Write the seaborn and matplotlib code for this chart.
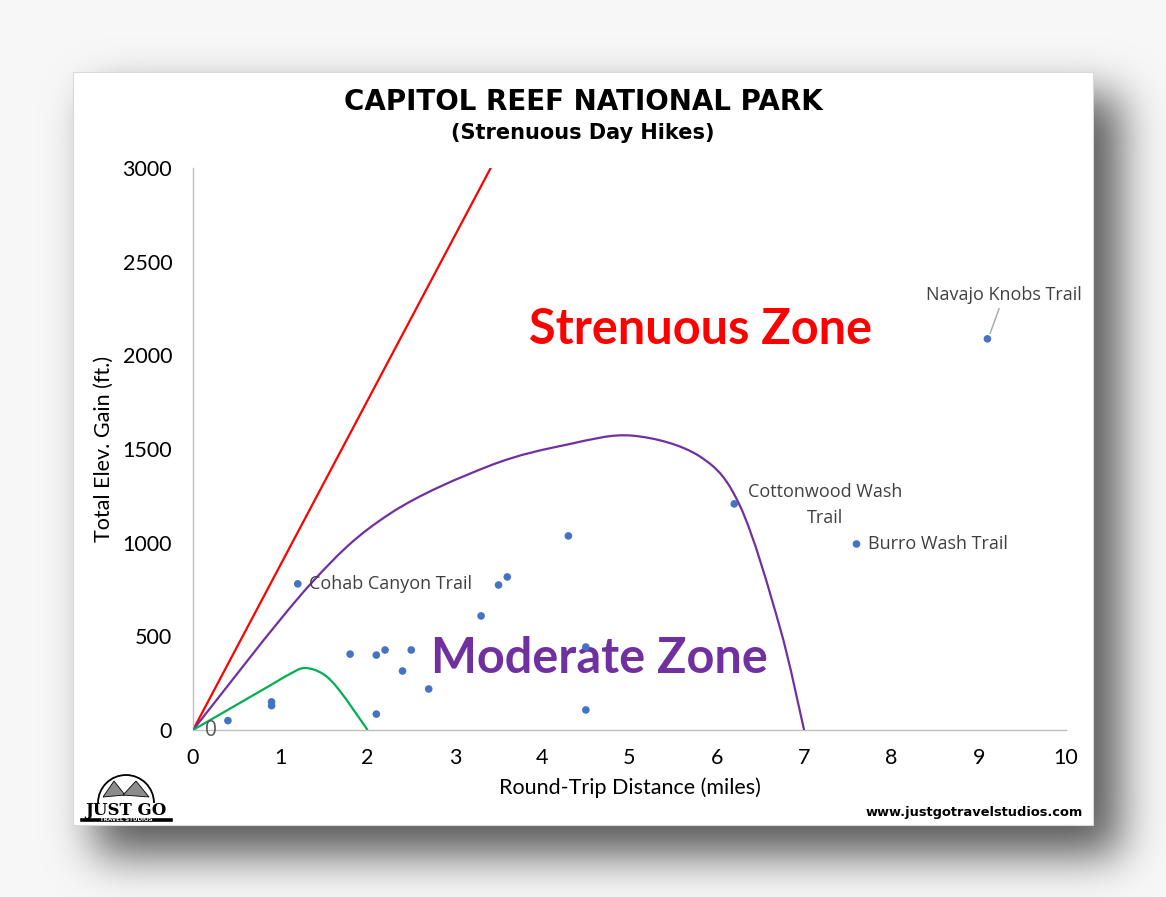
import numpy as np
import pandas as pd
import matplotlib
matplotlib.use("Agg")
import matplotlib.pyplot as plt
import seaborn as sns
from matplotlib.patches import Rectangle, Polygon, Arc, PathPatch
from matplotlib.path import Path

# ---------------- data ----------------
hike_dist = [0.4, 0.9, 0.9, 1.2, 1.8, 2.1, 2.2, 2.1, 2.4, 2.5, 2.7, 3.3, 3.5, 3.6, 4.3, 4.5, 4.5, 6.2, 7.6, 9.1]
hike_gain = [50, 150, 130, 780, 405, 400, 427, 85, 315, 427, 219, 609, 774, 817, 1036, 443, 107, 1207, 993, 2088]

strenuous_x = [0, 3.41]
strenuous_y = [0, 3000]

moderate_x = [0, 1.34, 2.25, 3.40, 4.30, 5.04, 5.81, 6.27, 6.72, 7.0]
moderate_y = [0, 776, 1153, 1411, 1525, 1571, 1459, 1192, 552, 0]

easy_x = [0, 0.88, 1.11, 1.28, 1.49, 1.68, 2.0]
easy_y = [0, 237, 299, 331, 299, 210, 0]

x_ticks = [0, 1, 2, 3, 4, 5, 6, 7, 8, 9, 10]
y_ticks = [0, 500, 1000, 1500, 2000, 2500, 3000]

labels = ["Cohab Canyon Trail", "Cottonwood Wash\nTrail", "Burro Wash Trail", "Navajo Knobs Trail"]

# ---------------- helpers ----------------
def smooth_path(xs, ys):
    """Excel-style smoothed line: cubic Bezier segments through the data points."""
    P = np.column_stack([xs, ys]).astype(float)
    n = len(P)
    verts = [P[0]]
    codes = [Path.MOVETO]
    for i in range(n - 1):
        p0 = P[i - 1] if i > 0 else P[i]
        p1, p2 = P[i], P[i + 1]
        p3 = P[i + 2] if i + 2 < n else P[i + 1]
        c1 = p1 + (p2 - p0) / 6.0
        c2 = p2 - (p3 - p1) / 6.0
        verts += [c1, c2, p2]
        codes += [Path.CURVE4] * 3
    return Path(verts, codes)

def blur1d(a, sigma, axis):
    r = int(3 * sigma)
    k = np.exp(-0.5 * (np.arange(-r, r + 1) / sigma) ** 2)
    k /= k.sum()
    return np.apply_along_axis(lambda v: np.convolve(np.pad(v, r, mode='edge'), k, mode='valid'), axis, a)

# ---------------- figure & background ----------------
sns.set_theme(style="white")
plt.rcParams['font.family'] = ['Lato', 'DejaVu Sans']

W, H = 1166, 897
fig = plt.figure(figsize=(W / 100, H / 100), dpi=100)

mask = np.zeros((H, W))
mask[95:855, 95:1120] = 1.0
mask = blur1d(blur1d(mask, 22, 0), 22, 1)
bg = 0.97 - 0.62 * mask
img = np.dstack([bg, bg, bg])
fig.figimage(img, 0, 0, origin='upper', zorder=0)

panel = Rectangle((73 / W, 1 - 825 / H), (1093 - 73) / W, (825 - 72) / H,
                  transform=fig.transFigure, facecolor='white', edgecolor='#d9d9d9',
                  linewidth=0.8, zorder=1)
fig.patches.append(panel)

# ---------------- main axes ----------------
ax = fig.add_axes([193 / W, 1 - 730 / H, (1066 - 193) / W, (730 - 168) / H])
ax.set_facecolor('none')
ax.set_zorder(2)

sns.lineplot(x=strenuous_x, y=strenuous_y, ax=ax, color='#FF0000', linewidth=1.6, sort=False)
ax.add_patch(PathPatch(smooth_path(moderate_x, moderate_y), fill=False, edgecolor='#7030A0', linewidth=1.6, zorder=3))
ax.add_patch(PathPatch(smooth_path(easy_x, easy_y), fill=False, edgecolor='#00B050', linewidth=1.6, zorder=3))
sns.scatterplot(x=hike_dist, y=hike_gain, ax=ax, color='#4472C4', s=30, edgecolor='none', zorder=5)

ax.set_xlim(0, 10)
ax.set_ylim(0, 3000)
ax.set_xticks(x_ticks)
ax.set_yticks(y_ticks)
ax.set_xticklabels([str(v) for v in x_ticks])
ax.set_yticklabels([str(v) for v in y_ticks])
ax.tick_params(axis='x', length=0, pad=13, labelsize=15.5, labelcolor='#000000')
ax.tick_params(axis='y', length=0, pad=15, labelsize=15.5, labelcolor='#000000')
for s in ['top', 'right']:
    ax.spines[s].set_visible(False)
for s in ['left', 'bottom']:
    ax.spines[s].set_color('#bfbfbf')
    ax.spines[s].set_linewidth(1.0)
ax.grid(False)
ax.set_xlabel('Round-Trip Distance (miles)', fontsize=15.5, color='#000000', labelpad=7)
ax.set_ylabel('Total Elev. Gain (ft.)', fontsize=15.5, color='#000000', labelpad=6)

# data labels
lab_font = dict(family=['Open Sans', 'DejaVu Sans'], fontsize=13, color='#404040')
ax.text(hike_dist[3] + 0.13, hike_gain[3], labels[0], ha='left', va='center', **lab_font)
ax.text(7.24, 1200, labels[1], ha='center', va='center', multialignment='center', linespacing=1.6, **lab_font)
ax.text(hike_dist[18] + 0.13, hike_gain[18], labels[2], ha='left', va='center', **lab_font)
ax.annotate(labels[3], xy=(hike_dist[19] + 0.02, hike_gain[19] + 15), xytext=(9.29, 2322),
            ha='center', va='center', **lab_font,
            arrowprops=dict(arrowstyle='-', color='#a6a6a6', lw=1.0, shrinkA=1, shrinkB=2))
ax.text(0.2, -5, '0', ha='center', va='center', family=['Open Sans', 'DejaVu Sans'],
        fontsize=15, color='#595959')

zone_font = dict(family=['Lato', 'DejaVu Sans'], fontweight='bold', fontsize=35)
ax.text(5.81, 2136, 'Strenuous Zone', color='#FF0000', ha='center', va='center', **zone_font)
ax.text(4.66, 384, 'Moderate Zone', color='#7030A0', ha='center', va='center', **zone_font)

# ---------------- titles ----------------
fig.text(0.5, 1 - 102 / H, 'CAPITOL REEF NATIONAL PARK', ha='center', va='center',
         fontsize=20, fontweight='bold', family=['DejaVu Sans'],
         color='#000000', zorder=3)
fig.text(0.5, 1 - 133 / H, '(Strenuous Day Hikes)', ha='center', va='center',
         fontsize=15, fontweight='bold', family=['DejaVu Sans'],
         color='#000000', zorder=3)

fig.text(1083 / W, 1 - 812 / H, 'www.justgotravelstudios.com', ha='right', va='center',
         fontsize=9.4, fontweight='bold', family=['DejaVu Sans'], color='#000000', zorder=3)

# ---------------- logo ----------------
lax = fig.add_axes([78 / W, 1 - 823 / H, 96 / W, 52 / H])
lax.set_xlim(0, 96)
lax.set_ylim(0, 52)
lax.axis('off')
lax.set_zorder(3)
lax.add_patch(Arc((48, 20), 56, 56, theta1=0, theta2=180, color='black', lw=1.3))
lax.add_patch(Polygon([[25, 26], [36, 42], [47, 28]], closed=True, facecolor='#8c8c8c', edgecolor='black', lw=0.6))
lax.add_patch(Polygon([[45, 28], [58, 42], [71, 26]], closed=True, facecolor='#8c8c8c', edgecolor='black', lw=0.6))
lax.text(48, 13, 'JUST GO', ha='center', va='center', fontsize=12, fontweight='bold',
         family=['DejaVu Serif'], color='black')
lax.add_patch(Rectangle((1, 1), 94, 5, facecolor='black'))
lax.text(48, 3.5, 'TRAVEL STUDIOS', ha='center', va='center', fontsize=4, fontweight='bold',
         family=['DejaVu Sans'], color='white')

fig.savefig('out.png', dpi=100)
